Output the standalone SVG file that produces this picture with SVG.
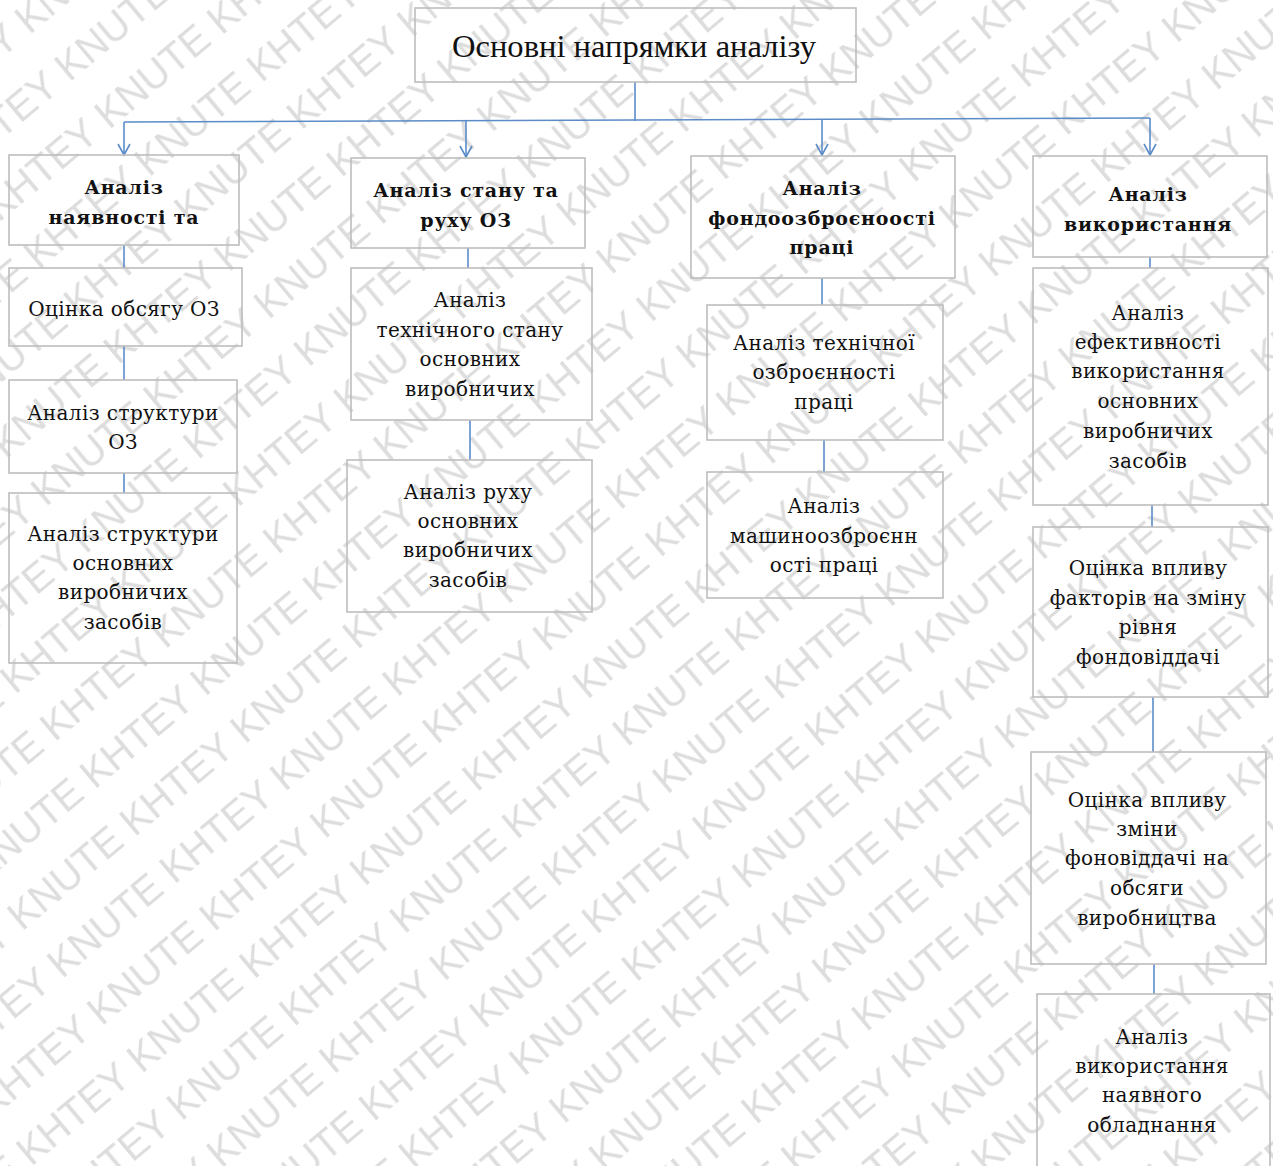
<svg xmlns="http://www.w3.org/2000/svg" width="1273" height="1166" viewBox="0 0 1273 1166">
<style>
.box{fill:none;stroke:#bdbdbd;stroke-width:1.6}
.t{font-family:"DejaVu Serif","Liberation Serif",serif;font-size:20px;letter-spacing:0.4px;fill:#111;text-anchor:middle}
.b{font-family:"DejaVu Serif","Liberation Serif",serif;font-size:19px;letter-spacing:0.8px;font-weight:bold;fill:#111;text-anchor:middle}
.title{font-family:"Liberation Serif","Times New Roman",serif;font-size:31px;fill:#111;text-anchor:middle}
.c{stroke:#5b8cc8;stroke-width:1.6;fill:none}
.wm{font-family:"Liberation Sans",Arial,sans-serif;font-size:40px;fill:#dddddd}
</style>
<defs>
<marker id="arr" markerWidth="14" markerHeight="14" refX="12" refY="7" orient="auto" markerUnits="userSpaceOnUse" viewBox="0 0 14 14">
<polyline points="1,1 12,7 1,13" fill="none" stroke="#5b8cc8" stroke-width="1.6"/>
</marker>
<pattern id="wmp" patternUnits="userSpaceOnUse" width="291" height="62" patternTransform="rotate(-40)">
<text class="wm" x="0" y="46">KNUTE KHTEY</text>
</pattern>
</defs>
<rect width="1273" height="1166" fill="#ffffff"/>
<rect width="1273" height="1166" fill="url(#wmp)"/>

<g id="connectors">
<line class="c" x1="635" y1="82" x2="635" y2="121"/>
<line class="c" x1="124" y1="122" x2="1150" y2="118"/>
<line class="c" x1="124" y1="122" x2="124" y2="155" marker-end="url(#arr)"/>
<line class="c" x1="466" y1="121" x2="466" y2="157" marker-end="url(#arr)"/>
<line class="c" x1="822" y1="120" x2="822" y2="155" marker-end="url(#arr)"/>
<line class="c" x1="1150" y1="118" x2="1150" y2="155" marker-end="url(#arr)"/>
<line class="c" x1="124" y1="245" x2="124" y2="268"/>
<line class="c" x1="124" y1="346" x2="124" y2="380"/>
<line class="c" x1="124" y1="473" x2="124" y2="493"/>
<line class="c" x1="468" y1="248" x2="468" y2="268"/>
<line class="c" x1="470" y1="420" x2="470" y2="460"/>
<line class="c" x1="822" y1="278" x2="822" y2="305"/>
<line class="c" x1="824" y1="440" x2="824" y2="472"/>
<line class="c" x1="1150" y1="257" x2="1150" y2="268"/>
<line class="c" x1="1152" y1="505" x2="1152" y2="527"/>
<line class="c" x1="1153" y1="697" x2="1153" y2="752"/>
<line class="c" x1="1154" y1="964" x2="1154" y2="994"/>
</g>

<g id="root">
<rect class="box" x="415" y="8" width="441" height="74"/>
<text class="title" x="634" y="57" textLength="364" lengthAdjust="spacingAndGlyphs">Основні напрямки аналізу</text>
</g>

<g id="n1">
<rect class="box" x="9" y="155" width="230" height="90"/>
<text class="b" x="124" y="194">Аналіз</text>
<text class="b" x="124" y="224">наявності та</text>
</g>
<g id="n2">
<rect class="box" x="351" y="158" width="234" height="90"/>
<text class="b" x="466" y="197">Аналіз стану та</text>
<text class="b" x="466" y="227">руху ОЗ</text>
</g>
<g id="n3">
<rect class="box" x="691" y="156" width="264" height="122"/>
<text class="b" x="822" y="195">Аналіз</text>
<text class="b" x="822" y="225">фондоозброєноості</text>
<text class="b" x="822" y="254">праці</text>
</g>
<g id="n4">
<rect class="box" x="1033" y="156" width="234" height="101"/>
<text class="b" x="1148" y="201">Аналіз</text>
<text class="b" x="1148" y="231">використання</text>
</g>

<g id="n1a">
<rect class="box" x="9" y="268" width="233" height="78"/>
<text class="t" x="124" y="316">Оцінка  обсягу ОЗ</text>
</g>
<g id="n1b">
<rect class="box" x="9" y="380" width="228" height="93"/>
<text class="t" x="123" y="420">Аналіз  структури</text>
<text class="t" x="123" y="449">ОЗ</text>
</g>
<g id="n1c">
<rect class="box" x="9" y="493" width="228" height="170"/>
<text class="t" x="123" y="541">Аналіз  структури</text>
<text class="t" x="123" y="570">основних</text>
<text class="t" x="123" y="599">виробничих</text>
<text class="t" x="123" y="629">засобів</text>
</g>

<g id="n2a">
<rect class="box" x="351" y="268" width="241" height="152"/>
<text class="t" x="470" y="307">Аналіз</text>
<text class="t" x="470" y="337">технічного  стану</text>
<text class="t" x="470" y="366">основних</text>
<text class="t" x="470" y="396">виробничих</text>
</g>
<g id="n2b">
<rect class="box" x="347" y="460" width="245" height="152"/>
<text class="t" x="468" y="499">Аналіз  руху</text>
<text class="t" x="468" y="528">основних</text>
<text class="t" x="468" y="557">виробничих</text>
<text class="t" x="468" y="587">засобів</text>
</g>

<g id="n3a">
<rect class="box" x="707" y="305" width="236" height="135"/>
<text class="t" x="824" y="350">Аналіз  технічної</text>
<text class="t" x="824" y="379">озброєнності</text>
<text class="t" x="824" y="409">праці</text>
</g>
<g id="n3b">
<rect class="box" x="707" y="472" width="236" height="126"/>
<text class="t" x="824" y="513">Аналіз</text>
<text class="t" x="824" y="543">машиноозброєнн</text>
<text class="t" x="824" y="572">ості праці</text>
</g>

<g id="n4a">
<rect class="box" x="1033" y="268" width="235" height="237"/>
<text class="t" x="1148" y="320">Аналіз</text>
<text class="t" x="1148" y="349">ефективності</text>
<text class="t" x="1148" y="378">використання</text>
<text class="t" x="1148" y="408">основних</text>
<text class="t" x="1148" y="438">виробничих</text>
<text class="t" x="1148" y="468">засобів</text>
</g>
<g id="n4b">
<rect class="box" x="1033" y="527" width="235" height="170"/>
<text class="t" x="1148" y="575">Оцінка  впливу</text>
<text class="t" x="1148" y="605">факторів на зміну</text>
<text class="t" x="1148" y="634">рівня</text>
<text class="t" x="1148" y="664">фондовіддачі</text>
</g>
<g id="n4c">
<rect class="box" x="1031" y="752" width="235" height="212"/>
<text class="t" x="1147" y="807">Оцінка  впливу</text>
<text class="t" x="1147" y="836">зміни</text>
<text class="t" x="1147" y="865">фоновіддачі на</text>
<text class="t" x="1147" y="895">обсяги</text>
<text class="t" x="1147" y="925">виробництва</text>
</g>
<g id="n4d">
<rect class="box" x="1037" y="994" width="233" height="180"/>
<text class="t" x="1152" y="1044">Аналіз</text>
<text class="t" x="1152" y="1073">використання</text>
<text class="t" x="1152" y="1102">наявного</text>
<text class="t" x="1152" y="1132">обладнання</text>
</g>
</svg>
